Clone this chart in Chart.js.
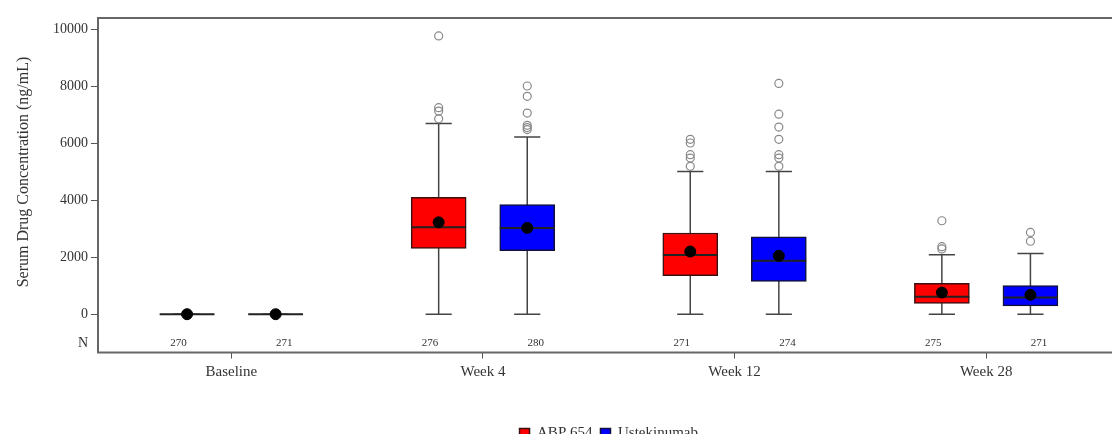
<!DOCTYPE html>
<html>
<head>
<meta charset="utf-8">
<script src="https://cdn.jsdelivr.net/npm/chart.js@4.4.1/dist/chart.umd.min.js"></script>
<style>
  html, body { margin: 0; padding: 0; background: #fff; }
  #wrap { width: 1112px; height: 434px; overflow: hidden; position: relative; }
  canvas { display: block; }
</style>
</head>
<body>
<div id="wrap"><canvas id="chart" width="1126" height="451"></canvas></div>
<script>
/*
  Serum drug concentration box plots, ABP 654 vs Ustekinumab.
  Boxes are floating bars, whiskers / medians are line datasets,
  means and outliers are scatter points.
*/

const categories = ['Baseline', 'Week 4', 'Week 12', 'Week 28'];
const yTicks = [0, 2000, 4000, 6000, 8000, 10000];

// ABP 654
const abpN      = [270, 276, 271, 275];
const abpLow    = [0, 0, 0, 0];
const abpQ1     = [0, 2310, 1350, 375];
const abpMedian = [0, 3050, 2080, 610];
const abpQ3     = [0, 4100, 2850, 1080];
const abpHigh   = [0, 6690, 5010, 2090];
const abpMean   = [0, 3225, 2200, 760];
const abpOutliers = [
  [],
  [9770, 7250, 7130, 6860],
  [6140, 6010, 5600, 5480, 5190],
  [3280, 2370, 2290],
];

// Ustekinumab
const ustN      = [271, 280, 274, 271];
const ustLow    = [0, 0, 0, 0];
const ustQ1     = [0, 2230, 1150, 290];
const ustMedian = [0, 3030, 1880, 590];
const ustQ3     = [0, 3850, 2720, 1000];
const ustHigh   = [0, 6220, 5010, 2130];
const ustMean   = [0, 3030, 2050, 680];
const ustOutliers = [
  [],
  [8010, 7650, 7060, 6630, 6550, 6480],
  [8100, 7020, 6570, 6140, 5600, 5480, 5190],
  [2870, 2560],
];

// layout constants (axis units on the x scale, 1 unit = one visit)
const BOX_OFF = 0.176;   // box centre offset from visit centre
const BOX_HALF = 0.109;  // half box width (for median line)
const CAP_HALF = 0.052;  // half whisker-cap width
const N_OFF = 0.21;      // N label offset
const N_ROW = -1020;     // y position of the N row
const FONT = "'Liberation Serif', 'DejaVu Serif', serif";
const TEXT = '#333';

function boxes(q1, q3, sign){
  return categories.map((c, i) => ({ x: i + sign * BOX_OFF, y: [q1[i], q3[i]] }));
}

function whiskers(lo, hi, sign){
  const pts = [];
  categories.forEach((c, i) => {
    const x = i + sign * BOX_OFF;
    pts.push({ x, y: lo[i] }, { x, y: hi[i] }, { x, y: null });
    pts.push({ x: x - CAP_HALF, y: hi[i] }, { x: x + CAP_HALF, y: hi[i] }, { x, y: null });
    pts.push({ x: x - CAP_HALF, y: lo[i] }, { x: x + CAP_HALF, y: lo[i] }, { x, y: null });
  });
  return pts;
}

function medians(med, sign){
  const pts = [];
  categories.forEach((c, i) => {
    const x = i + sign * BOX_OFF;
    pts.push({ x: x - BOX_HALF, y: med[i] }, { x: x + BOX_HALF, y: med[i] }, { x, y: null });
  });
  return pts;
}

function points(vals, sign){
  return categories.map((c, i) => ({ x: i + sign * BOX_OFF, y: vals[i] }));
}

function outlierPts(list, sign){
  const pts = [];
  list.forEach((arr, i) => arr.forEach(v => pts.push({ x: i + sign * BOX_OFF, y: v })));
  return pts;
}

const lineStyle = { type: 'line', borderColor: '#444', borderWidth: 1.5, pointRadius: 0, spanGaps: false, fill: false };

// frame round the plot, N counts and the rotated y title
const extras = {
  id: 'extras',
  afterDraw(chart){
    const { ctx, chartArea: a, scales } = chart;
    ctx.save();
    ctx.strokeStyle = '#666';
    ctx.lineWidth = 2;
    ctx.strokeRect(a.left, a.top, a.right - a.left, a.bottom - a.top);

    ctx.fillStyle = TEXT;
    ctx.font = `11px ${FONT}`;
    ctx.textAlign = 'center';
    ctx.textBaseline = 'middle';
    const yN = scales.y.getPixelForValue(N_ROW);
    categories.forEach((c, i) => {
      ctx.fillText(String(abpN[i]), scales.x.getPixelForValue(i - N_OFF), yN);
      ctx.fillText(String(ustN[i]), scales.x.getPixelForValue(i + N_OFF), yN);
    });

    ctx.font = `16px ${FONT}`;
    ctx.translate(24, 172);
    ctx.rotate(-Math.PI / 2);
    ctx.fillText('Serum Drug Concentration (ng/mL)', 0, 0);
    ctx.restore();
  }
};

new Chart(document.getElementById('chart'), {
  type: 'bar',
  data: {
    datasets: [
      { label: 'ABP 654', data: boxes(abpQ1, abpQ3, -1), backgroundColor: '#ff0000',
        borderColor: '#3a1010', borderWidth: 1.5, borderSkipped: false, grouped: false,
        barThickness: 55, order: 2 },
      { label: 'Ustekinumab', data: boxes(ustQ1, ustQ3, 1), backgroundColor: '#0000ff',
        borderColor: '#10103a', borderWidth: 1.5, borderSkipped: false, grouped: false,
        barThickness: 55, order: 2 },
      { ...lineStyle, label: 'w1', data: whiskers(abpLow, abpHigh, -1), order: 3 },
      { ...lineStyle, label: 'w2', data: whiskers(ustLow, ustHigh, 1), order: 3 },
      { ...lineStyle, label: 'm1', data: medians(abpMedian, -1), borderColor: '#222', borderWidth: 2, order: 1 },
      { ...lineStyle, label: 'm2', data: medians(ustMedian, 1), borderColor: '#222', borderWidth: 2, order: 1 },
      { type: 'scatter', label: 'mean1', data: points(abpMean, -1), pointRadius: 5.5,
        backgroundColor: '#000', borderColor: '#000', order: 0 },
      { type: 'scatter', label: 'mean2', data: points(ustMean, 1), pointRadius: 5.5,
        backgroundColor: '#000', borderColor: '#000', order: 0 },
      { type: 'scatter', label: 'o1', data: outlierPts(abpOutliers, -1), pointRadius: 4,
        backgroundColor: 'rgba(255,255,255,0)', borderColor: '#888', borderWidth: 1.2, order: 0 },
      { type: 'scatter', label: 'o2', data: outlierPts(ustOutliers, 1), pointRadius: 4,
        backgroundColor: 'rgba(255,255,255,0)', borderColor: '#888', borderWidth: 1.2, order: 0 },
    ]
  },
  options: {
    responsive: false,
    animation: false,
    events: [],
    layout: { padding: { top: 18, right: 2, left: 0, bottom: 0 } },
    plugins: {
      tooltip: { enabled: false },
      legend: {
        position: 'bottom',
        fullSize: false,
        labels: {
          filter: (item) => item.datasetIndex < 2,
          boxWidth: 10, boxHeight: 10, padding: 8,
          color: TEXT, font: { family: FONT, size: 15 }
        }
      }
    },
    scales: {
      x: {
        type: 'linear',
        min: -0.53, max: 3.53,
        offset: false,
        afterFit: (s) => { s.height = 65.5; },
        afterBuildTicks: (s) => { s.ticks = categories.map((c, i) => ({ value: i })); },
        ticks: {
          autoSkip: false, maxRotation: 0, padding: 5,
          color: TEXT, font: { family: FONT, size: 15 },
          callback: (v) => categories[v] ?? ''
        },
        grid: { display: true, drawOnChartArea: false, drawTicks: true, tickLength: 6, color: '#555', offset: false },
        border: { display: false }
      },
      y: {
        min: -1345, max: 10398,
        afterFit: (s) => { s.width = 98; },
        afterBuildTicks: (s) => { s.ticks = [N_ROW, ...yTicks].map(v => ({ value: v })); },
        ticks: {
          padding: 3, color: TEXT, font: { family: FONT, size: 14 },
          callback: (v) => v === N_ROW ? 'N' : String(v)
        },
        grid: {
          display: true, drawOnChartArea: false, drawTicks: true, tickLength: 7,
          tickColor: (ctx) => (ctx.tick && ctx.tick.value === N_ROW) ? 'rgba(0,0,0,0)' : '#555'
        },
        border: { display: false }
      }
    }
  },
  plugins: [extras]
});
</script>
</body>
</html>
